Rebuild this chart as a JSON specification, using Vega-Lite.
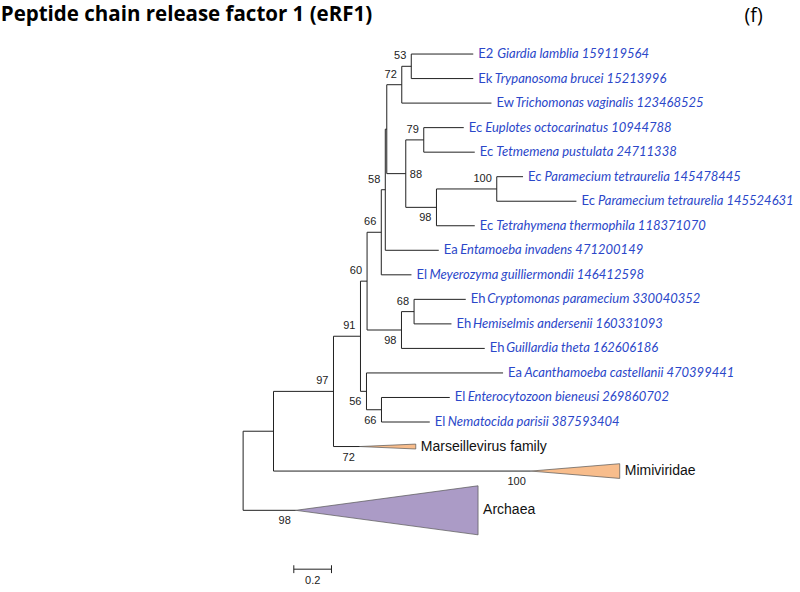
{
  "$schema": "https://vega.github.io/schema/vega-lite/v6.json",
  "width": 800,
  "height": 562,
  "autosize": {"type": "none"},
  "padding": {"top": 30, "left": 0, "right": 0, "bottom": 0},
  "background": "white",
  "config": {"view": {"stroke": null}},
  "datasets": {
    "edges": [
      {"x": 0.8923, "x2": 1.2212, "y": 1, "y2": 1},
      {"x": 0.8923, "x2": 1.2212, "y": 2, "y2": 2},
      {"x": 0.8419, "x2": 0.8923, "y": 1.5, "y2": 1.5},
      {"x": 0.8419, "x2": 1.3178, "y": 3, "y2": 3},
      {"x": 0.7623, "x2": 0.8419, "y": 2.25, "y2": 2.25},
      {"x": 0.9586, "x2": 1.1708, "y": 4, "y2": 4},
      {"x": 0.9586, "x2": 1.2292, "y": 5, "y2": 5},
      {"x": 0.8631, "x2": 0.9586, "y": 4.5, "y2": 4.5},
      {"x": 1.3459, "x2": 1.4854, "y": 6, "y2": 6},
      {"x": 1.3459, "x2": 1.7687, "y": 7, "y2": 7},
      {"x": 1.026, "x2": 1.3459, "y": 6.5, "y2": 6.5},
      {"x": 1.026, "x2": 1.2292, "y": 8, "y2": 8},
      {"x": 0.8631, "x2": 1.026, "y": 7.25, "y2": 7.25},
      {"x": 0.7623, "x2": 0.8631, "y": 5.875, "y2": 5.875},
      {"x": 0.7544, "x2": 0.7623, "y": 4.0625, "y2": 4.0625},
      {"x": 0.7544, "x2": 1.0382, "y": 9, "y2": 9},
      {"x": 0.7332, "x2": 0.7544, "y": 6.53125, "y2": 6.53125},
      {"x": 0.7332, "x2": 0.8934, "y": 10, "y2": 10},
      {"x": 0.6578, "x2": 0.7332, "y": 8.2656, "y2": 8.2656},
      {"x": 0.9072, "x2": 1.1814, "y": 11, "y2": 11},
      {"x": 0.9072, "x2": 1.1056, "y": 12, "y2": 12},
      {"x": 0.8403, "x2": 0.9072, "y": 11.5, "y2": 11.5},
      {"x": 0.8403, "x2": 1.2822, "y": 13, "y2": 13},
      {"x": 0.6578, "x2": 0.8403, "y": 12.25, "y2": 12.25},
      {"x": 0.6228, "x2": 0.6578, "y": 10.2578, "y2": 10.2578},
      {"x": 0.6546, "x2": 1.3793, "y": 14, "y2": 14},
      {"x": 0.7342, "x2": 1.0966, "y": 15, "y2": 15},
      {"x": 0.7342, "x2": 0.9905, "y": 16, "y2": 16},
      {"x": 0.6546, "x2": 0.7342, "y": 15.5, "y2": 15.5},
      {"x": 0.6228, "x2": 0.6546, "y": 14.75, "y2": 14.75},
      {"x": 0.4796, "x2": 0.6228, "y": 12.5039, "y2": 12.5039},
      {"x": 0.4796, "x2": 0.6191, "y": 17, "y2": 17},
      {"x": 0.1613, "x2": 0.4796, "y": 14.752, "y2": 14.752},
      {"x": 0.1613, "x2": 1.5263, "y": 18, "y2": 18},
      {"x": 0, "x2": 0.1613, "y": 16.376, "y2": 16.376},
      {"x": 0, "x2": 0.2796, "y": 19.6, "y2": 19.6},
      {"x": 0.8923, "x2": 0.8923, "y": 1, "y2": 2},
      {"x": 0.8419, "x2": 0.8419, "y": 1.5, "y2": 3},
      {"x": 0.9586, "x2": 0.9586, "y": 4, "y2": 5},
      {"x": 1.3459, "x2": 1.3459, "y": 6, "y2": 7},
      {"x": 1.026, "x2": 1.026, "y": 6.5, "y2": 8},
      {"x": 0.8631, "x2": 0.8631, "y": 4.5, "y2": 7.25},
      {"x": 0.7623, "x2": 0.7623, "y": 2.25, "y2": 5.875},
      {"x": 0.7544, "x2": 0.7544, "y": 4.0625, "y2": 9},
      {"x": 0.7332, "x2": 0.7332, "y": 6.53125, "y2": 10},
      {"x": 0.9072, "x2": 0.9072, "y": 11, "y2": 12},
      {"x": 0.8403, "x2": 0.8403, "y": 11.5, "y2": 13},
      {"x": 0.6578, "x2": 0.6578, "y": 8.2656, "y2": 12.25},
      {"x": 0.7342, "x2": 0.7342, "y": 15, "y2": 16},
      {"x": 0.6546, "x2": 0.6546, "y": 14, "y2": 15.5},
      {"x": 0.6228, "x2": 0.6228, "y": 10.2578, "y2": 14.75},
      {"x": 0.4796, "x2": 0.4796, "y": 12.5039, "y2": 17},
      {"x": 0.1613, "x2": 0.1613, "y": 14.752, "y2": 18},
      {"x": 0, "x2": 0, "y": 16.376, "y2": 19.6},
      {"x": 0.269, "x2": 0.469, "y": 22, "y2": 22},
      {"x": 0.269, "x2": 0.269, "y": 21.84, "y2": 22.16},
      {"x": 0.469, "x2": 0.469, "y": 21.84, "y2": 22.16}
    ],
    "clades": [
      {"clade": "Marseillevirus family", "x": 0.6191, "lo": 17, "hi": 17},
      {"clade": "Marseillevirus family", "x": 0.9162, "lo": 16.9, "hi": 17.1},
      {"clade": "Mimiviridae", "x": 1.5263, "lo": 18, "hi": 18},
      {"clade": "Mimiviridae", "x": 1.9984, "lo": 17.7, "hi": 18.3},
      {"clade": "Archaea", "x": 0.2796, "lo": 19.6, "hi": 19.6},
      {"clade": "Archaea", "x": 1.2467, "lo": 18.6, "hi": 20.6}
    ],
    "cladeLabels": [
      {"clade": "Marseillevirus family", "x": 0.9162, "y": 17},
      {"clade": "Mimiviridae", "x": 1.9984, "y": 18},
      {"clade": "Archaea", "x": 1.2467, "y": 19.6}
    ],
    "support": [
      {"v": "53", "x": 0.8923, "y": 1.5, "pos": "above"},
      {"v": "72", "x": 0.8419, "y": 2.25, "pos": "above"},
      {"v": "79", "x": 0.9586, "y": 4.5, "pos": "above"},
      {"v": "88", "x": 0.8631, "y": 5.875, "pos": "right"},
      {"v": "58", "x": 0.7544, "y": 6.53125, "pos": "above"},
      {"v": "100", "x": 1.3459, "y": 6.5, "pos": "above"},
      {"v": "98", "x": 1.026, "y": 7.25, "pos": "below"},
      {"v": "66", "x": 0.7332, "y": 8.2656, "pos": "above"},
      {"v": "60", "x": 0.6578, "y": 10.2578, "pos": "above"},
      {"v": "68", "x": 0.9072, "y": 11.5, "pos": "above"},
      {"v": "98", "x": 0.8403, "y": 12.25, "pos": "below"},
      {"v": "91", "x": 0.6228, "y": 12.5039, "pos": "above"},
      {"v": "97", "x": 0.4796, "y": 14.752, "pos": "above"},
      {"v": "56", "x": 0.6546, "y": 14.75, "pos": "below"},
      {"v": "66", "x": 0.7342, "y": 15.5, "pos": "below"},
      {"v": "72", "x": 0.6191, "y": 17, "pos": "below"},
      {"v": "100", "x": 1.5263, "y": 18, "pos": "below"},
      {"v": "98", "x": 0.2796, "y": 19.6, "pos": "below"}
    ],
    "leaves": [
      {"prefix": "E2", "name": "Giardia lamblia 159119564", "x": 1.2212, "y": 1},
      {"prefix": "Ek", "name": "Trypanosoma brucei 15213996", "x": 1.2212, "y": 2},
      {"prefix": "Ew", "name": "Trichomonas vaginalis 123468525", "x": 1.3178, "y": 3},
      {"prefix": "Ec", "name": "Euplotes octocarinatus 10944788", "x": 1.1708, "y": 4},
      {"prefix": "Ec", "name": "Tetmemena pustulata 24711338", "x": 1.2292, "y": 5},
      {"prefix": "Ec", "name": "Paramecium tetraurelia 145478445", "x": 1.4854, "y": 6},
      {"prefix": "Ec", "name": "Paramecium tetraurelia 145524631", "x": 1.7687, "y": 7},
      {"prefix": "Ec", "name": "Tetrahymena thermophila 118371070", "x": 1.2292, "y": 8},
      {"prefix": "Ea", "name": "Entamoeba invadens 471200149", "x": 1.0382, "y": 9},
      {"prefix": "El", "name": "Meyerozyma guilliermondii 146412598", "x": 0.8934, "y": 10},
      {"prefix": "Eh", "name": "Cryptomonas paramecium 330040352", "x": 1.1814, "y": 11},
      {"prefix": "Eh", "name": "Hemiselmis andersenii 160331093", "x": 1.1056, "y": 12},
      {"prefix": "Eh", "name": "Guillardia theta 162606186", "x": 1.2822, "y": 13},
      {"prefix": "Ea", "name": "Acanthamoeba castellanii 470399441", "x": 1.3793, "y": 14},
      {"prefix": "El", "name": "Enterocytozoon bieneusi 269860702", "x": 1.0966, "y": 15},
      {"prefix": "El", "name": "Nematocida parisii 387593404", "x": 0.9905, "y": 16}
    ],
    "scaleLabel": [{"text": "0.2", "x": 0.369, "y": 22}],
    "heading": [
      {"text": "Peptide chain release factor 1 (eRF1)", "x": -1.286, "y": -0.6}
    ],
    "panel": [{"text": "(f)", "x": 2.709, "y": -0.55}]
  },
  "layer": [
    {
      "data": {"name": "clades"},
      "mark": {"type": "area", "stroke": "#555555", "strokeWidth": 0.7, "opacity": 1},
      "encoding": {
        "x": {"field": "x", "type": "quantitative", "scale": {"domain": [-1.29, 2.955], "nice": false, "zero": false}, "axis": null},
        "y": {"field": "lo", "type": "quantitative", "scale": {"domain": [0.02, 22.93], "reverse": true, "nice": false, "zero": false}, "axis": null},
        "y2": {"field": "hi"},
        "detail": {"field": "clade", "type": "nominal"},
        "color": {"field": "clade", "type": "nominal", "scale": {"domain": ["Marseillevirus family", "Mimiviridae", "Archaea"], "range": ["#f8bd8c", "#f8bd8c", "#ab9bc6"]}, "legend": null}
      }
    },
    {
      "data": {"name": "edges"},
      "mark": {"type": "rule", "color": "#222222", "strokeWidth": 1},
      "encoding": {
        "x": {"field": "x", "type": "quantitative", "scale": {"domain": [-1.29, 2.955], "nice": false, "zero": false}, "axis": null},
        "x2": {"field": "x2"},
        "y": {"field": "y", "type": "quantitative", "scale": {"domain": [0.02, 22.93], "reverse": true, "nice": false, "zero": false}, "axis": null},
        "y2": {"field": "y2"}
      }
    },
    {
      "data": {"name": "cladeLabels"},
      "mark": {"type": "text", "align": "left", "baseline": "middle", "dx": 5, "font": "Liberation Sans", "fontSize": 14, "color": "#111111"},
      "encoding": {
        "x": {"field": "x", "type": "quantitative", "scale": {"domain": [-1.29, 2.955], "nice": false, "zero": false}, "axis": null},
        "y": {"field": "y", "type": "quantitative", "scale": {"domain": [0.02, 22.93], "reverse": true, "nice": false, "zero": false}, "axis": null},
        "text": {"field": "clade"}
      }
    },
    {
      "data": {"name": "support"},
      "transform": [{"filter": "datum.pos === 'above'"}],
      "mark": {"type": "text", "align": "right", "baseline": "middle", "dx": -5, "dy": -10, "font": "Liberation Sans", "fontSize": 11, "color": "#222222"},
      "encoding": {
        "x": {"field": "x", "type": "quantitative", "scale": {"domain": [-1.29, 2.955], "nice": false, "zero": false}, "axis": null},
        "y": {"field": "y", "type": "quantitative", "scale": {"domain": [0.02, 22.93], "reverse": true, "nice": false, "zero": false}, "axis": null},
        "text": {"field": "v"}
      }
    },
    {
      "data": {"name": "support"},
      "transform": [{"filter": "datum.pos === 'below'"}],
      "mark": {"type": "text", "align": "right", "baseline": "middle", "dx": -5, "dy": 11, "font": "Liberation Sans", "fontSize": 11, "color": "#222222"},
      "encoding": {
        "x": {"field": "x", "type": "quantitative", "scale": {"domain": [-1.29, 2.955], "nice": false, "zero": false}, "axis": null},
        "y": {"field": "y", "type": "quantitative", "scale": {"domain": [0.02, 22.93], "reverse": true, "nice": false, "zero": false}, "axis": null},
        "text": {"field": "v"}
      }
    },
    {
      "data": {"name": "support"},
      "transform": [{"filter": "datum.pos === 'right'"}],
      "mark": {"type": "text", "align": "left", "baseline": "middle", "dx": 4, "dy": 1, "font": "Liberation Sans", "fontSize": 11, "color": "#222222"},
      "encoding": {
        "x": {"field": "x", "type": "quantitative", "scale": {"domain": [-1.29, 2.955], "nice": false, "zero": false}, "axis": null},
        "y": {"field": "y", "type": "quantitative", "scale": {"domain": [0.02, 22.93], "reverse": true, "nice": false, "zero": false}, "axis": null},
        "text": {"field": "v"}
      }
    },
    {
      "data": {"name": "leaves"},
      "mark": {"type": "text", "align": "left", "baseline": "middle", "dx": 5, "font": "Lato", "fontSize": 13, "color": "#2b47c9"},
      "encoding": {
        "x": {"field": "x", "type": "quantitative", "scale": {"domain": [-1.29, 2.955], "nice": false, "zero": false}, "axis": null},
        "y": {"field": "y", "type": "quantitative", "scale": {"domain": [0.02, 22.93], "reverse": true, "nice": false, "zero": false}, "axis": null},
        "text": {"field": "prefix"}
      }
    },
    {
      "data": {"name": "leaves"},
      "transform": [{"filter": "datum.prefix === 'El'"}],
      "mark": {"type": "text", "align": "left", "baseline": "middle", "dx": 18, "font": "Lato", "fontSize": 13, "fontStyle": "italic", "color": "#2b47c9"},
      "encoding": {
        "x": {"field": "x", "type": "quantitative", "scale": {"domain": [-1.29, 2.955], "nice": false, "zero": false}, "axis": null},
        "y": {"field": "y", "type": "quantitative", "scale": {"domain": [0.02, 22.93], "reverse": true, "nice": false, "zero": false}, "axis": null},
        "text": {"field": "name"}
      }
    },
    {
      "data": {"name": "leaves"},
      "transform": [{"filter": "indexof(['Ek','Ec','Ea','Eh'], datum.prefix) >= 0"}],
      "mark": {"type": "text", "align": "left", "baseline": "middle", "dx": 21.5, "font": "Lato", "fontSize": 13, "fontStyle": "italic", "color": "#2b47c9"},
      "encoding": {
        "x": {"field": "x", "type": "quantitative", "scale": {"domain": [-1.29, 2.955], "nice": false, "zero": false}, "axis": null},
        "y": {"field": "y", "type": "quantitative", "scale": {"domain": [0.02, 22.93], "reverse": true, "nice": false, "zero": false}, "axis": null},
        "text": {"field": "name"}
      }
    },
    {
      "data": {"name": "leaves"},
      "transform": [{"filter": "indexof(['E2','Ew'], datum.prefix) >= 0"}],
      "mark": {"type": "text", "align": "left", "baseline": "middle", "dx": 24, "font": "Lato", "fontSize": 13, "fontStyle": "italic", "color": "#2b47c9"},
      "encoding": {
        "x": {"field": "x", "type": "quantitative", "scale": {"domain": [-1.29, 2.955], "nice": false, "zero": false}, "axis": null},
        "y": {"field": "y", "type": "quantitative", "scale": {"domain": [0.02, 22.93], "reverse": true, "nice": false, "zero": false}, "axis": null},
        "text": {"field": "name"}
      }
    },
    {
      "data": {"name": "scaleLabel"},
      "mark": {"type": "text", "align": "center", "baseline": "middle", "dy": 12, "font": "Liberation Sans", "fontSize": 11, "color": "#222222"},
      "encoding": {
        "x": {"field": "x", "type": "quantitative", "scale": {"domain": [-1.29, 2.955], "nice": false, "zero": false}, "axis": null},
        "y": {"field": "y", "type": "quantitative", "scale": {"domain": [0.02, 22.93], "reverse": true, "nice": false, "zero": false}, "axis": null},
        "text": {"field": "text"}
      }
    },
    {
      "data": {"name": "heading"},
      "mark": {"type": "text", "align": "left", "baseline": "middle", "font": "Open Sans", "fontSize": 20.5, "fontWeight": "bold", "color": "black"},
      "encoding": {
        "x": {"field": "x", "type": "quantitative", "scale": {"domain": [-1.29, 2.955], "nice": false, "zero": false}, "axis": null},
        "y": {"field": "y", "type": "quantitative", "scale": {"domain": [0.02, 22.93], "reverse": true, "nice": false, "zero": false}, "axis": null},
        "text": {"field": "text"}
      }
    },
    {
      "data": {"name": "panel"},
      "mark": {"type": "text", "align": "center", "baseline": "middle", "font": "Open Sans", "fontSize": 19.5, "color": "black"},
      "encoding": {
        "x": {"field": "x", "type": "quantitative", "scale": {"domain": [-1.29, 2.955], "nice": false, "zero": false}, "axis": null},
        "y": {"field": "y", "type": "quantitative", "scale": {"domain": [0.02, 22.93], "reverse": true, "nice": false, "zero": false}, "axis": null},
        "text": {"field": "text"}
      }
    }
  ]
}
